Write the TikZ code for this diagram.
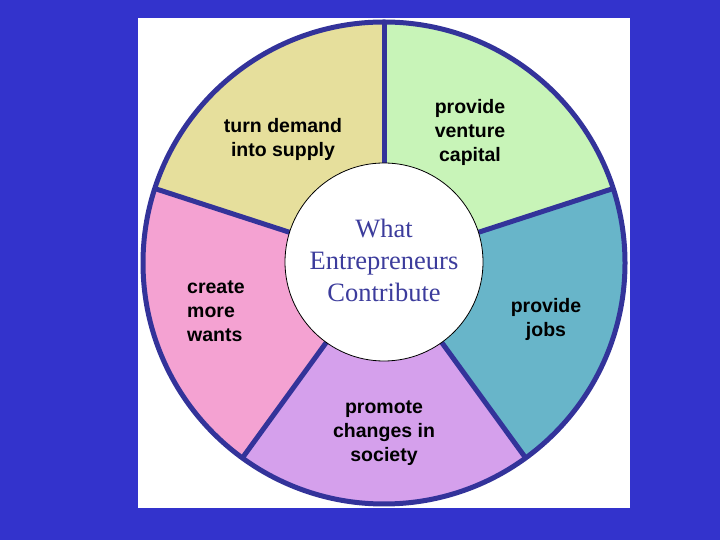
\documentclass[tikz,border=0pt]{standalone}
\usepackage{fontspec}
\usetikzlibrary{calc}
\setmainfont{Liberation Serif}
\setsansfont{Liberation Sans}
\definecolor{bgblue}{HTML}{3333CC}
\definecolor{rimblue}{HTML}{33339A}
\definecolor{segyellow}{HTML}{E6DF9C}
\definecolor{seggreen}{HTML}{C8F4B8}
\definecolor{segteal}{HTML}{68B5C9}
\definecolor{seglav}{HTML}{D5A0EC}
\definecolor{segpink}{HTML}{F4A2D2}
\definecolor{centertext}{HTML}{3C3C9C}
\tikzset{
  segtext/.style={font=\sffamily\bfseries\fontsize{19.5}{24}\selectfont, align=center, text=black, inner sep=0pt},
  rim/.style={draw=rimblue, line width=5pt},
  spoke/.style={draw=rimblue, line width=5pt},
}
\begin{document}
\begin{tikzpicture}[x=1pt,y=1pt]
\useasboundingbox (0,0) rectangle (720,540);
\fill[bgblue] (0,0) rectangle (720,540);
\fill[white] (138,32) rectangle (630,522);
\coordinate (C) at (384,277);
% sectors
\fill[segyellow] (C) -- ++(90:241pt) arc[start angle=90, end angle=162, radius=241pt] -- cycle;
\fill[segpink] (C) -- ++(162:241pt) arc[start angle=162, end angle=234, radius=241pt] -- cycle;
\fill[seglav] (C) -- ++(234:241pt) arc[start angle=234, end angle=306, radius=241pt] -- cycle;
\fill[segteal] (C) -- ++(306:241pt) arc[start angle=306, end angle=378, radius=241pt] -- cycle;
\fill[seggreen] (C) -- ++(18:241pt) arc[start angle=18, end angle=90, radius=241pt] -- cycle;
% spokes
\foreach \a in {90,162,234,306,18}{
  \draw[spoke] ($(C)+(\a:90pt)$) -- ($(C)+(\a:241pt)$);
}
\draw[rim] (C) circle[radius=241pt];
% centre
\node[circle, draw=black, line width=0.8pt, fill=white, minimum size=198pt, inner sep=0pt] (hub) at (384,278) {};
\node[font=\fontsize{26.5}{32}\selectfont, text=centertext, align=center, inner sep=0pt] (title) at (384,280) {What\\Entrepreneurs\\Contribute};
% labels
\node[segtext] (t1) at (283,401) {turn demand\\into supply};
\node[segtext] (t2) at (470,408) {provide\\venture\\capital};
\node[segtext, align=left, anchor=west] (t3) at (187,229) {create\\more\\wants};
\node[segtext] (t4) at (546,221) {provide\\jobs};
\node[segtext] (t5) at (384,107) {promote\\changes in\\society};
\end{tikzpicture}
\end{document}
